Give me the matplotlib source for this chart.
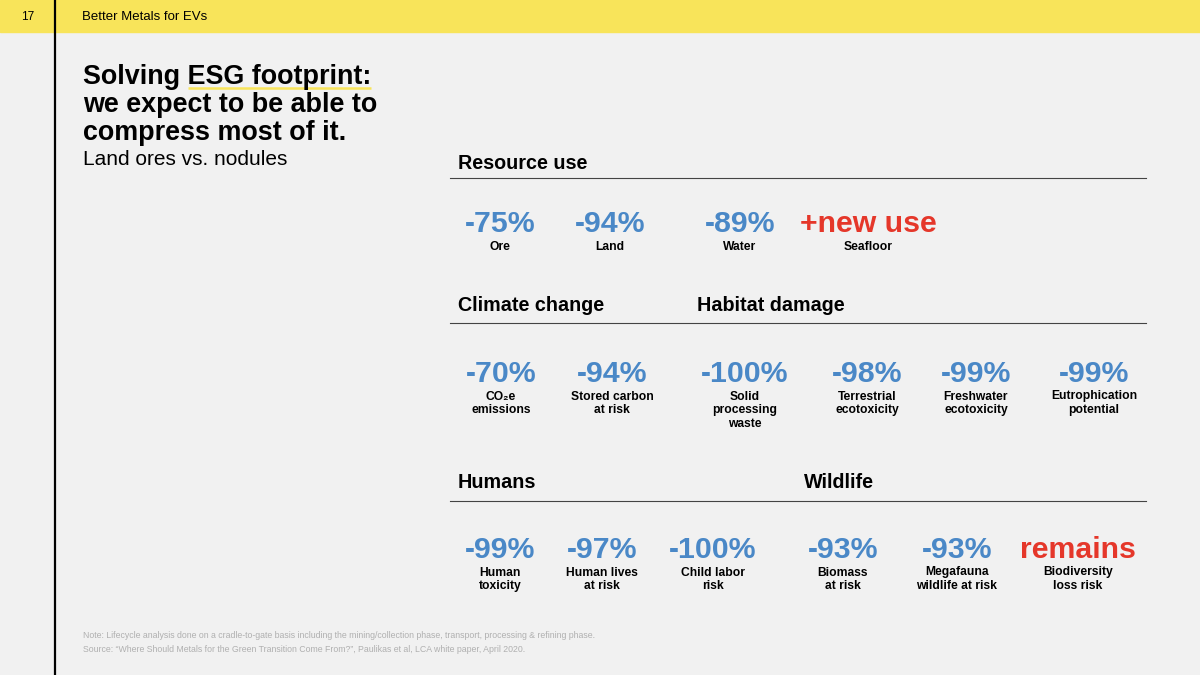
import matplotlib
matplotlib.use('Agg')
import matplotlib.pyplot as plt

# --- data -------------------------------------------------------------
page_number = "17"
deck_title = "Better Metals for EVs"
title_lines = ["Solving ESG footprint:", "we expect to be able to", "compress most of it."]
subtitle = "Land ores vs. nodules"

row1_headers = ["Resource use"]
row1_values = ["-75%", "-94%", "-89%", "+new use"]
row1_labels = ["Ore", "Land", "Water", "Seafloor"]
row1_bad = [False, False, False, True]

row2_headers = ["Climate change", "Habitat damage"]
row2_values = ["-70%", "-94%", "-100%", "-98%", "-99%", "-99%"]
row2_labels = ["CO\u2082e\nemissions", "Stored carbon\nat risk", "Solid\nprocessing\nwaste",
               "Terrestrial\necotoxicity", "Freshwater\necotoxicity", "Eutrophication\npotential"]
row2_bad = [False] * 6

row3_headers = ["Humans", "Wildlife"]
row3_values = ["-99%", "-97%", "-100%", "-93%", "-93%", "remains"]
row3_labels = ["Human\ntoxicity", "Human lives\nat risk", "Child labor\nrisk",
               "Biomass\nat risk", "Megafauna\nwildlife at risk", "Biodiversity\nloss risk"]
row3_bad = [False] * 5 + [True]

notes = ["Note: Lifecycle analysis done on a cradle-to-gate basis including the mining/collection phase, transport, processing & refining phase.",
         "Source: \u201cWhere Should Metals for the Green Transition Come From?\u201d, Paulikas et al, LCA white paper, April 2020."]

# --- layout (pixels, y grows downward) ----------------------------------
row1_x = [500, 610, 740, 868]
row2_x = [501, 612, 745, 867, 976, 1094]
row3_x = [500, 602, 713, 843, 957, 1078]
row1_hx = [458]
row2_hx = [458, 697]
row3_hx = [458, 804]
header_base = [169, 311, 488]
rule_y = [178, 323, 501]
value_base = [232, 382, 558]

BG = '#F1F1F1'
YELLOW = '#F8E45A'
BLUE = '#4A88C7'
RED = '#E5372A'
SANS = ['Liberation Sans', 'DejaVu Sans']

fig = plt.figure(figsize=(12, 6.75), dpi=100, facecolor=BG)
ax = fig.add_axes([0, 0, 1, 1])
ax.set_xlim(0, 1200)
ax.set_ylim(675, 0)
ax.axis('off')

# top band and margin line
ax.axhspan(0, 32, color=YELLOW, zorder=0)
ax.plot([55, 55], [0, 675], color='black', lw=1.6)
ax.text(28, 16.5, page_number, fontsize=8.6, family=SANS, ha='center', va='center')
ax.text(82, 16.5, deck_title, fontsize=9.5, family=SANS, va='center')

# title block
for i, line in enumerate(title_lines):
    ax.text(83, 84.5 + i * 28, line, fontsize=19.4, weight='bold', family=SANS, va='baseline')
ax.text(83, 165, subtitle, fontsize=15, family=SANS, va='baseline')

# yellow underline under "ESG footprint:"
fig.canvas.draw()
r = fig.canvas.get_renderer()
tmp = ax.text(83, 84.5, "Solving ", fontsize=19.4, weight='bold', family=SANS, va='baseline')
tmp_full = ax.text(83, 84.5, title_lines[0], fontsize=19.4, weight='bold', family=SANS, va='baseline')
inv = ax.transData.inverted()
x_start = inv.transform(tmp.get_window_extent(r).get_points())[1][0]
x_end = inv.transform(tmp_full.get_window_extent(r).get_points())[1][0]
tmp.remove()
tmp_full.remove()
ax.plot([x_start, x_end], [88, 88], color=YELLOW, lw=1.8, solid_capstyle='butt')


def draw_row(k, headers, hx, values, labels, bad, xs):
    for h, x in zip(headers, hx):
        ax.text(x, header_base[k], h, fontsize=14.2, weight='bold', family=SANS, va='baseline')
    ax.plot([450, 1146], [rule_y[k], rule_y[k]], color='#444444', lw=0.8)
    for v, lab, b, x in zip(values, labels, bad, xs):
        ax.text(x, value_base[k], v, fontsize=21.8, weight='bold', family=SANS,
                color=RED if b else BLUE, ha='center', va='baseline')
        for j, part in enumerate(lab.split('\n')):
            ax.text(x, value_base[k] + 17.5 + j * 13.8, part, fontsize=8.7, weight='bold',
                    family=SANS, ha='center', va='baseline')


draw_row(0, row1_headers, row1_hx, row1_values, row1_labels, row1_bad, row1_x)
draw_row(1, row2_headers, row2_hx, row2_values, row2_labels, row2_bad, row2_x)
draw_row(2, row3_headers, row3_hx, row3_values, row3_labels, row3_bad, row3_x)

for i, n in enumerate(notes):
    ax.text(83, 636 + i * 13, n, fontsize=6.3, family=SANS, color='#B0B0B0', va='center')

fig.savefig('out.png', dpi=100, facecolor=BG)
